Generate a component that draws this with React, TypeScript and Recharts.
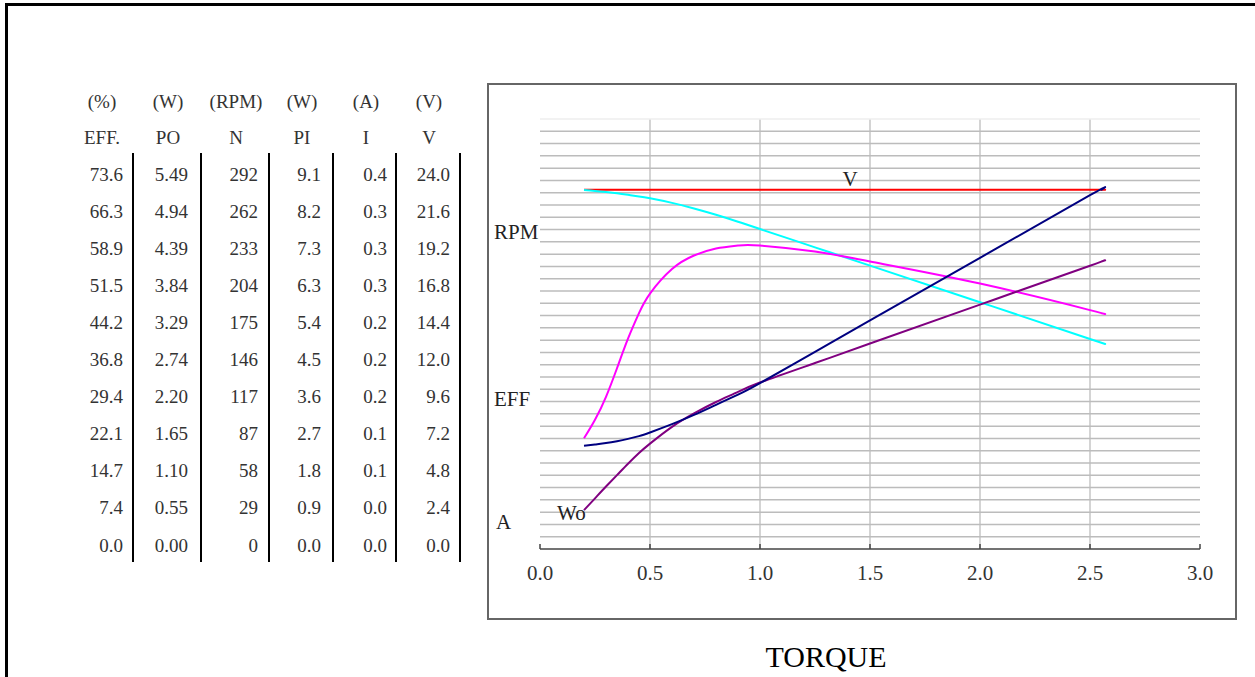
import React from 'react';
import { LineChart, Line, XAxis, YAxis, CartesianGrid, ReferenceLine } from 'recharts';

// torque (x) and the curves
const TORQUE = [0.2, 0.25, 0.3, 0.35, 0.4, 0.45, 0.5, 0.6, 0.7, 0.8, 0.9, 1.0, 1.25, 1.5, 2.0, 2.5, 2.55];
const EFF_PCT = [22.1, 25.8, 30.4, 36.1, 42.0, 47.1, 51.0, 55.9, 58.6, 60.0, 60.6, 60.6, 59.4, 57.4, 53.0, 47.7, 47.1];
const SPEED_RPM = [284.4, 283.7, 282.8, 281.8, 280.6, 279.3, 277.8, 274.2, 269.8, 264.8, 259.3, 253.5, 239.0, 224.5, 195.5, 166.4, 163.5];
const CURRENT_A = [0.112, 0.1135, 0.115, 0.117, 0.1195, 0.1225, 0.1265, 0.1355, 0.1455, 0.1565, 0.1675, 0.18, 0.214, 0.248, 0.316, 0.384, 0.3895];
const OUTPUT_W = [0.58, 0.755, 0.93, 1.1, 1.27, 1.43, 1.57, 1.82, 2.02, 2.19, 2.34, 2.48, 2.77, 3.06, 3.64, 4.22, 4.28];
const VOLTAGE_V = [23.4, 23.4, 23.4, 23.4, 23.4, 23.4, 23.4, 23.4, 23.4, 23.4, 23.4, 23.4, 23.4, 23.4, 23.4, 23.4, 23.4];

const X_TICKS = [0, 0.5, 1.0, 1.5, 2.0, 2.5, 3.0];
const X_GRID = [0.5, 1.0, 1.5, 2.0, 2.5];

// scale table on the left
const UNITS = ['(%)', '(W)', '(RPM)', '(W)', '(A)', '(V)'];
const NAMES = ['EFF.', 'PO', 'N', 'PI', 'I', 'V'];
const EFF_COL = ['73.6', '66.3', '58.9', '51.5', '44.2', '36.8', '29.4', '22.1', '14.7', '7.4', '0.0'];
const PO_COL = ['5.49', '4.94', '4.39', '3.84', '3.29', '2.74', '2.20', '1.65', '1.10', '0.55', '0.00'];
const N_COL = ['292', '262', '233', '204', '175', '146', '117', '87', '58', '29', '0'];
const PI_COL = ['9.1', '8.2', '7.3', '6.3', '5.4', '4.5', '3.6', '2.7', '1.8', '0.9', '0.0'];
const I_COL = ['0.4', '0.3', '0.3', '0.3', '0.2', '0.2', '0.2', '0.1', '0.1', '0.0', '0.0'];
const V_COL = ['24.0', '21.6', '19.2', '16.8', '14.4', '12.0', '9.6', '7.2', '4.8', '2.4', '0.0'];
const COLUMNS = [EFF_COL, PO_COL, N_COL, PI_COL, I_COL, V_COL];

// the table spans 30 of the 35 grid divisions
const DIVS = 35;
const TABLE_DIVS = 30;
const axisTop = (col: string[]) => (parseFloat(col[0]) * DIVS) / TABLE_DIVS;
// one grid division expressed on the voltage axis
const VOLT_PER_DIV = axisTop(V_COL) / DIVS;
const DIV_LINES = Array.from({ length: DIVS - 1 }, (_, i) => (i + 1) * VOLT_PER_DIV);

const rows = TORQUE.map((t, i) => ({
  torque: t,
  eff: EFF_PCT[i],
  rpm: SPEED_RPM[i],
  amp: CURRENT_A[i],
  wo: OUTPUT_W[i],
  volt: VOLTAGE_V[i],
}));

const FONT = '"Liberation Serif", "Times New Roman", serif';

const COL_CENTER = [102, 168, 236, 302, 366, 429];
const COL_RIGHT = [123, 188, 258, 321, 387, 450];
const COL_BAR = [133, 201, 269, 333, 396, 460];
const ROW_Y0 = 174;
const ROW_STEP = 37.1;

const Txt: React.FC<{
  x: number;
  y: number;
  size?: number;
  anchor?: 'start' | 'middle' | 'end';
  color?: string;
  children: React.ReactNode;
}> = ({ x, y, size = 19, anchor = 'start', color = '#333', children }) => {
  const shift = anchor === 'middle' ? 'translateX(-50%)' : anchor === 'end' ? 'translateX(-100%)' : 'none';
  return (
    <div
      style={{
        position: 'absolute',
        left: x,
        top: y - size / 2,
        fontSize: size,
        lineHeight: `${size}px`,
        transform: shift,
        whiteSpace: 'nowrap',
        color,
        fontFamily: FONT,
      }}
    >
      {children}
    </div>
  );
};

const TorqueTick = (props: any) => {
  const { x, y, payload } = props;
  return (
    <g>
      <line x1={x} x2={x} y1={y} y2={y - 5} stroke="#444" strokeWidth={1.5} />
      <text x={x} y={y + 31} textAnchor="middle" fontSize={21} fill="#333" fontFamily={FONT}>
        {Number(payload.value).toFixed(1)}
      </text>
    </g>
  );
};

export default function App() {
  return (
    <div
      style={{
        position: 'absolute',
        left: 0,
        top: 0,
        width: 1255,
        height: 677,
        overflow: 'hidden',
        background: '#fff',
        fontFamily: FONT,
      }}
    >
      {/* outer frame */}
      <div
        style={{
          position: 'absolute',
          left: 5,
          top: 3,
          width: 1400,
          height: 900,
          border: '3px solid #000',
        }}
      />

      {/* scale table */}
      {UNITS.map((u, c) => (
        <Txt key={'u' + c} x={COL_CENTER[c]} y={101} anchor="middle">
          {u}
        </Txt>
      ))}
      {NAMES.map((n, c) => (
        <Txt key={'n' + c} x={COL_CENTER[c]} y={137} anchor="middle">
          {n}
        </Txt>
      ))}
      {COLUMNS.map((col, c) =>
        col.map((v, r) => (
          <Txt key={`v${c}-${r}`} x={COL_RIGHT[c]} y={ROW_Y0 + r * ROW_STEP} anchor="end">
            {v}
          </Txt>
        ))
      )}
      {COL_BAR.map((bx, c) => (
        <div
          key={'b' + c}
          style={{ position: 'absolute', left: bx - 1, top: 153, width: 2, height: 409, background: '#000' }}
        />
      ))}

      {/* chart box */}
      <div
        style={{
          position: 'absolute',
          left: 487,
          top: 83,
          width: 746,
          height: 533,
          border: '2px solid #666',
        }}
      />
      <div style={{ position: 'absolute', left: 488, top: 84 }}>
        <LineChart width={747} height={534} data={rows} margin={{ top: 35, right: 35, left: 52, bottom: 39 }}>
          <XAxis
            dataKey="torque"
            type="number"
            domain={[0, 3]}
            ticks={X_TICKS}
            interval={0}
            height={30}
            tickLine={false}
            tickSize={0}
            tickMargin={0}
            axisLine={{ stroke: '#444', strokeWidth: 1.5 }}
            tick={TorqueTick}
          />
          <YAxis yAxisId="volt" type="number" domain={[0, axisTop(V_COL)]} hide allowDataOverflow />
          <YAxis yAxisId="eff" type="number" domain={[0, axisTop(EFF_COL)]} hide allowDataOverflow />
          <YAxis yAxisId="rpm" type="number" domain={[0, axisTop(N_COL)]} hide allowDataOverflow />
          <YAxis yAxisId="amp" type="number" domain={[0, axisTop(I_COL)]} hide allowDataOverflow />
          <YAxis yAxisId="wo" type="number" domain={[0, axisTop(PO_COL)]} hide allowDataOverflow />
          <CartesianGrid yAxisId="volt" horizontal={false} verticalValues={X_GRID} stroke="#d4d4d4" strokeWidth={2} />
          <ReferenceLine yAxisId="volt" y={axisTop(V_COL)} stroke="#eeeeee" strokeWidth={1.5} ifOverflow="visible" />
          {DIV_LINES.map((d, i) => (
            <ReferenceLine key={i} yAxisId="volt" y={d} stroke="#bcbcbc" strokeWidth={1.5} ifOverflow="visible" />
          ))}
          <Line yAxisId="volt" dataKey="volt" type="natural" stroke="#ff0000" strokeWidth={2} dot={false} isAnimationActive={false} />
          <Line yAxisId="rpm" dataKey="rpm" type="natural" stroke="#00ffff" strokeWidth={2} dot={false} isAnimationActive={false} />
          <Line yAxisId="eff" dataKey="eff" type="natural" stroke="#ff00ff" strokeWidth={2} dot={false} isAnimationActive={false} />
          <Line yAxisId="wo" dataKey="wo" type="natural" stroke="#800080" strokeWidth={2} dot={false} isAnimationActive={false} />
          <Line yAxisId="amp" dataKey="amp" type="natural" stroke="#000080" strokeWidth={2} dot={false} isAnimationActive={false} />
        </LineChart>
      </div>

      {/* curve labels */}
      <Txt x={850} y={179} size={21} anchor="middle" color="#222">V</Txt>
      <Txt x={494} y={232} size={21} color="#222">RPM</Txt>
      <Txt x={494} y={399} size={21} color="#222">EFF</Txt>
      <Txt x={496} y={522} size={21} color="#222">A</Txt>
      <Txt x={557} y={513} size={21} color="#222">Wo</Txt>

      <Txt x={826} y={657} size={30} anchor="middle" color="#000">TORQUE</Txt>
    </div>
  );
}
